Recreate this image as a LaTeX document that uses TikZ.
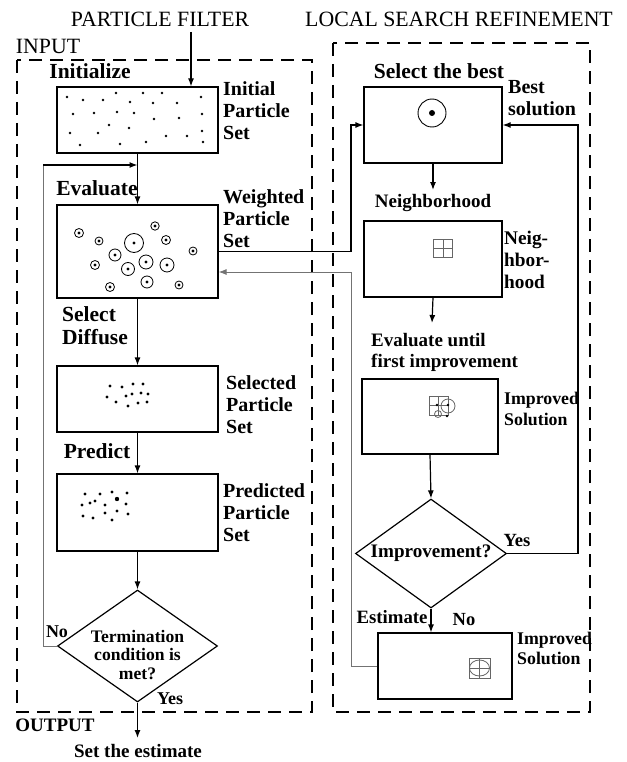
\documentclass[tikz,border=0pt]{standalone}
\usepackage{fontspec}
\setmainfont{Liberation Serif}
\usetikzlibrary{arrows.meta,shapes.geometric}
\tikzset{
  box/.style={draw, line width=1.2pt, inner sep=0pt},
  dashbox/.style={draw, line width=1.4pt, dash pattern=on 13pt off 8pt},
  arr/.style={-{Latex[length=8pt,width=6pt]}, line width=1.2pt},
  garr/.style={-{Latex[length=8pt,width=6pt]}, line width=0.9pt, draw=black!55},
  gline/.style={line width=0.9pt, draw=black!55},
  title/.style={font=\fontsize{21.8}{24}\selectfont, inner sep=0pt},
  stepl/.style={font=\bfseries\fontsize{21.5}{23}\selectfont, inner sep=0pt},
  sidel/.style={font=\bfseries\fontsize{20}{22}\selectfont, align=left, anchor=west, inner sep=0pt},
  rl/.style={font=\bfseries\fontsize{19}{21}\selectfont, inner sep=0pt},
  dtext/.style={font=\bfseries\fontsize{17.6}{18.5}\selectfont, align=center, inner sep=0pt},
  dmd/.style={diamond, draw, line width=1.2pt, inner sep=0pt},
  icon/.style={draw=black!60, line width=0.8pt},
}
\begin{document}
\begin{tikzpicture}[x=1pt,y=-1pt]
\useasboundingbox (0,0) rectangle (626,762);
% titles
\node[title] (pf) at (160,19) {PARTICLE FILTER};
\node[title] (lsr) at (459,19) {LOCAL SEARCH REFINEMENT};
\node[title] (input) at (48,46) {INPUT};
% dashed frames
\draw[dashbox] (17,60) rectangle (312,712);
\draw[dashbox] (333,43) rectangle (590,712);
% left boxes
\node[box, minimum width=161pt, minimum height=66pt] (init) at (137.5,120) {};
\node[box, minimum width=161pt, minimum height=93pt] (wps) at (137.5,251.5) {};
\node[box, minimum width=161pt, minimum height=66pt] (sps) at (137.5,399) {};
\node[box, minimum width=161pt, minimum height=77pt] (pps) at (137.5,512.5) {};
\node[dmd, minimum width=160pt, minimum height=112pt] (term) at (137.5,646) {};
\node[dtext] (termt) at (137.5,655) {Termination\\condition is\\met?};
% right boxes
\node[box, minimum width=138pt, minimum height=76pt] (best) at (433,125) {};
\node[box, minimum width=138pt, minimum height=76pt] (nbox) at (433,259) {};
\node[box, minimum width=136pt, minimum height=75pt] (imp) at (430,416.5) {};
\node[dmd, minimum width=151pt, minimum height=109pt] (impd) at (431,553.5) {};
\node[font=\bfseries\fontsize{19.1}{21}\selectfont, inner sep=0pt] (impdt) at (431,553) {Improvement?};
\node[box, minimum width=134pt, minimum height=66pt] (fin) at (445,666) {};
% step labels
\node[stepl] (l1) at (90,71) {Initialize};
\node[stepl] (l2) at (97,188) {Evaluate};
\node[stepl, align=left, anchor=west, font=\bfseries\fontsize{21.5}{23}\selectfont] (l3) at (62,326) {Select\\Diffuse};
\node[stepl] (l4) at (97,451) {Predict};
\node[stepl] (r1) at (439,71) {Select the best};
\node[rl] (r2) at (433,203) {Neighborhood};
\node[rl, align=left, anchor=west, font=\bfseries\fontsize{19}{21}\selectfont] (r3) at (371,352) {Evaluate until\\first improvement};
\node[rl, font=\bfseries\fontsize{18.8}{20}\selectfont] (est) at (392,617) {Estimate};
\node[rl, font=\bfseries\fontsize{18.5}{20}\selectfont] (no2) at (464,620) {No};
\node[rl, font=\bfseries\fontsize{18.6}{20}\selectfont] (yes2) at (517,540) {Yes};
\node[rl, font=\bfseries\fontsize{18}{20}\selectfont] (no1) at (57,632) {No};
\node[rl, font=\bfseries\fontsize{18}{20}\selectfont] (yes1) at (170,699) {Yes};
\node[rl] (outp) at (55,725) {OUTPUT};
\node[rl] (setest) at (138,751) {Set the estimate};
% side labels
\node[sidel] (s1) at (223,111) {Initial\\Particle\\Set};
\node[sidel] (s2) at (223,219) {Weighted\\Particle\\Set};
\node[sidel] (s3) at (226,405) {Selected\\Particle\\Set};
\node[sidel] (s4) at (223,513) {Predicted\\Particle\\Set};
\node[sidel] (s5) at (508,98) {Best\\solution};
\node[sidel, font=\bfseries\fontsize{19.3}{22}\selectfont] (s6) at (504,260) {Neig-\\hbor-\\hood};
\node[sidel, font=\bfseries\fontsize{17.8}{21}\selectfont] (s7) at (504,409) {Improved\\Solution};
\node[sidel, font=\bfseries\fontsize{17.8}{20}\selectfont] (s8) at (517,648) {Improved\\Solution};
% coordinates
\coordinate (pfa) at (191,32);
\coordinate (loopin) at (137.5,165);
\coordinate (lc) at (43,165);
\coordinate (bus) at (351,0);
\coordinate (ret) at (578,0);
\coordinate (outend) at (137.5,738);
\coordinate (nbtip) at (433,190);
\coordinate (evtip) at (432,323);
% left connectors
\draw[arr] (pfa) -- (pfa |- init.north);
\draw[arr] (init.south) -- (wps.north);
\draw[gline] (term.west) -| (lc);
\draw[arr] (lc) -- (loopin);
\draw[arr] (wps.south) -- (sps.north);
\draw[arr] (sps.south) -- (pps.north);
\draw[arr] (pps.south) -- (term.north);
\draw[arr] (term.south) -- (outend);
% cross connectors
\draw[arr] (wps.east) -- (wps.east -| bus) |- (best.west);
\draw[garr] (fin.west) -| (bus |- 0,272) -- ([yshift=-20.5pt]wps.east);
% right connectors
\draw[arr] (best.south) -- (nbtip);
\draw[arr] (nbox.south) -- (evtip);
\draw[arr] (imp.south) -- (impd.north);
\draw[arr] (impd.east) -- (impd.east -| ret) |- (best.east);
\draw[arr] (impd.south) -- (impd.south |- fin.north);
% initial particles
\foreach \x/\y in {67/97,83/100,103/100,116/93,143/93,162/93,130/102,153/103,177/103,201/97,
  73/114,94/113,117/112,134/113,154/119,179/118,202/114,
  109/125,129/128,70/133,98/133,202/131,166/136,187/136,203/142,
  80/145,120/144,146/142}
  \fill (\x,\y) circle (1.3);
% weighted particles
\foreach \x/\y/\r in {79/233/4.5,99/241/4,134/243/9.5,155/226/4.2,166/240/4.5,193/251/4,
  115/255/6,95/265/4.5,146/262/7,167/265/7,128/269/6.5,110/287/4.5,147/282/6,179/285/4}{
  \draw[line width=0.8pt] (\x,\y) circle (\r);
  \fill (\x,\y) circle (1.6);}
% selected particles
\foreach \x/\y in {110/386,122/387,133/384,143/384,107/397,126/396,132/394,141/393,148/394,116/402,128/406,138/403,147/402}
  \fill (\x,\y) circle (1.6);
% predicted particles
\foreach \x/\y in {85/494,100/494,112/492,127/493,82/505,90/503,95/501,105/505,126/504,83/516,93/518,105/513,117/511,128/514,112/520}
  \fill (\x,\y) circle (1.6);
\fill (117,499) circle (2.2);
% best icon
\draw[line width=0.9pt] (432,113) circle (14);
\fill (432,113) circle (3);
% neighborhood icon
\draw[icon] (433.5,239) rectangle (452.5,257);
\draw[icon] (443,239) -- (443,257) (433.5,248) -- (452.5,248);
% improved icon
\draw[icon] (429,396) rectangle (448,415);
\draw[icon] (438.5,396) -- (438.5,415) (429,405.5) -- (448,405.5);
\draw[icon] (448,406) circle (7);
\draw[icon] (438,414) circle (3.5);
\fill (437,405) circle (1.3);
\fill (448,405) circle (1.3);
\fill (447,416) circle (1.3);
% final icon
\draw[icon] (469,658) rectangle (490,678);
\draw[icon] (479.5,668) ellipse (10 and 8);
\draw[icon] (479.5,658) -- (479.5,678) (469,668) -- (490,668);
\end{tikzpicture}
\end{document}
